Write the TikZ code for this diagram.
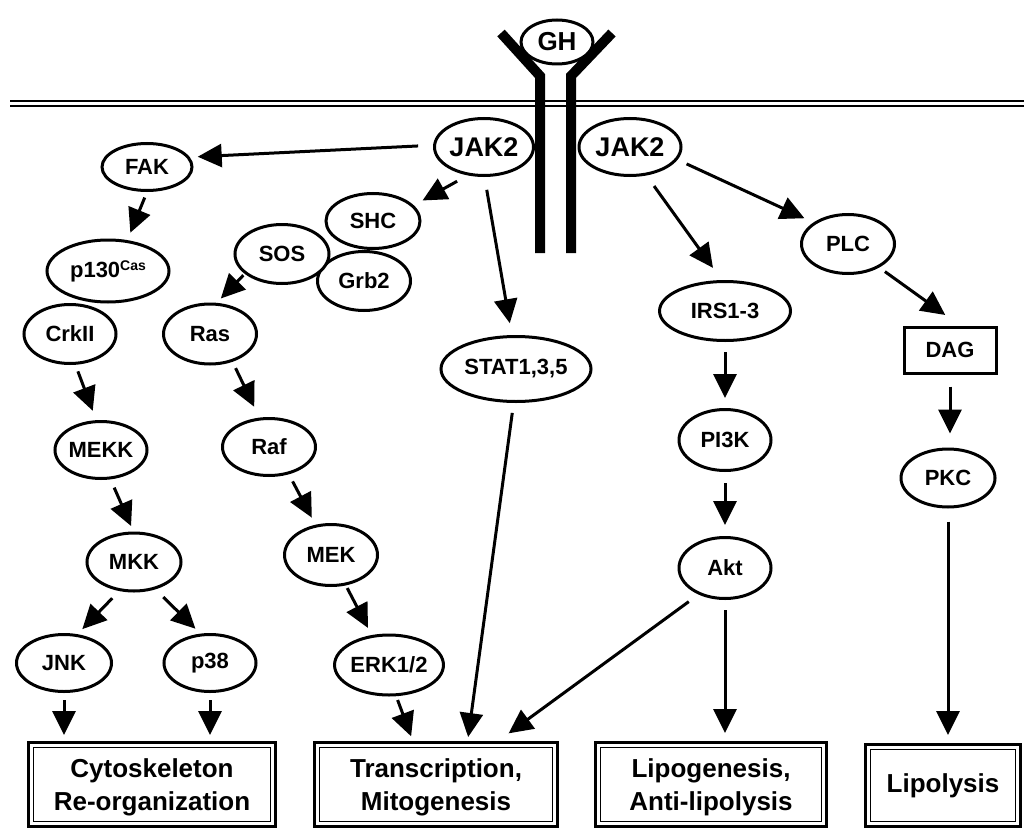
\documentclass[tikz,border=0pt]{standalone}
\usepackage{fontspec}
\setmainfont{Liberation Sans}
\usetikzlibrary{arrows.meta,shapes.geometric}
\begin{document}
\begin{tikzpicture}[x=1pt,y=-1pt,
  ell/.style={ellipse,draw,fill=white,line width=3pt,inner sep=0pt,font=\bfseries\fontsize{22}{26}\selectfont},
  bigell/.style={ell,font=\bfseries\fontsize{27}{30}\selectfont},
  arr/.style={line width=3pt,-{Triangle[length=24pt,width=23pt]}},
  outbox/.style={draw,line width=3pt,inner sep=0pt,align=center,font=\bfseries\fontsize{26}{33}\selectfont},
  innerline/.style={line width=1.5pt},
  membrane/.style={line width=2pt},
  receptor/.style={line width=10pt,line join=miter}
]
\useasboundingbox (0,0) rectangle (1024,829);

% membrane
\draw[membrane] (10,101) -- (1024,101);
\draw[membrane] (10,106.5) -- (1024,106.5);

% receptor
\draw[receptor] (501,33) -- (540,76) -- (540,253);
\draw[receptor] (612,33) -- (571,76) -- (571,253);
\node[ell,minimum width=72,minimum height=44,font=\bfseries\fontsize{26}{30}\selectfont] (gh) at (557,42) {GH};

% nodes
\node[bigell,minimum width=99,minimum height=57] (jak2l) at (484,147) {JAK2};
\node[bigell,minimum width=102,minimum height=57] (jak2r) at (630,147) {JAK2};
\node[ell,minimum width=90,minimum height=47] (fak) at (147,167) {FAK};
\node[ell,minimum width=94,minimum height=55] (shc) at (373,221) {SHC};
\node[ell,minimum width=93,minimum height=59] (grb2) at (364,281) {Grb2};
\node[ell,minimum width=94,minimum height=59] (sos) at (282,254) {SOS};
\node[ell,minimum width=122,minimum height=62] (p130) at (108,271) {p130\raisebox{7pt}{\fontsize{14}{14}\selectfont Cas}};
\node[ell,minimum width=92,minimum height=59] (crk) at (70,334) {CrkII};
\node[ell,minimum width=93,minimum height=60] (ras) at (210,334) {Ras};
\node[ell,minimum width=150,minimum height=65] (stat) at (516,369) {STAT1,3,5};
\node[ell,minimum width=131,minimum height=59] (irs) at (725,311) {IRS1-3};
\node[ell,minimum width=93,minimum height=59] (plc) at (848,244) {PLC};
\node[draw,line width=3pt,inner sep=0pt,minimum width=92,minimum height=46,font=\bfseries\fontsize{22}{26}\selectfont] (dag) at (950,350) {DAG};
\node[ell,minimum width=92,minimum height=61] (pi3k) at (725,440) {PI3K};
\node[ell,minimum width=94,minimum height=58] (pkc) at (948,478) {PKC};
\node[ell,minimum width=92,minimum height=61] (akt) at (725,568) {Akt};
\node[ell,minimum width=92,minimum height=57] (mekk) at (101,450) {MEKK};
\node[ell,minimum width=93,minimum height=57] (raf) at (269,447) {Raf};
\node[ell,minimum width=94,minimum height=58] (mkk) at (134,562) {MKK};
\node[ell,minimum width=93,minimum height=61] (mek) at (331,555) {MEK};
\node[ell,minimum width=95,minimum height=57] (jnk) at (64,663) {JNK};
\node[ell,minimum width=92,minimum height=57] (p38) at (210,663) {p38};
\node[ell,minimum width=105,minimum height=60] (erk) at (389,665) {ERK1/2};

% output boxes
\node[outbox,text depth=0pt,minimum width=247,minimum height=84] (b1) at (152,784.5) {Cytoskeleton\\Re-organization};
\node[outbox,text depth=0pt,minimum width=243,minimum height=84] (b2) at (436,784.5) {Transcription,\\Mitogenesis};
\node[outbox,text depth=0pt,minimum width=231,minimum height=84] (b3) at (711,784.5) {Lipogenesis,\\Anti-lipolysis};
\node[outbox,minimum width=155,minimum height=82] (b4) at (943,785.5) {Lipolysis};
\foreach \b in {b1,b2,b3,b4}{
  \draw[innerline] ([xshift=6.5pt,yshift=-6.5pt]\b.north west) rectangle ([xshift=-6.5pt,yshift=6.5pt]\b.south east);
}

% connectors
\draw[arr,shorten <=15pt,shorten >=8pt] (jak2l.178) -- (fak.13);
\draw[arr,shorten <=12pt,shorten >=10pt] (jak2l.240) -- (shc.21);
\draw[arr,shorten <=13pt,shorten >=12pt] (jak2l.271) -- (stat.97);
\draw[arr,shorten <=13pt,shorten >=15pt] (jak2r.300) -- (irs.96);
\draw[arr,shorten <=10pt,shorten >=10pt] (jak2r.-15) -- (plc.148);
\draw[arr,shorten <=6pt,shorten >=8pt] (fak.270) -- (p130.58);
\draw[arr,shorten <=2pt,shorten >=6pt] (sos.208) -- (ras.78);
\draw[arr,shorten <=7pt,shorten >=10pt] (crk.-80) -- (mekk.99);
\draw[arr,shorten <=7pt,shorten >=12pt] (ras.-51) -- (raf.108);
\draw[arr,shorten <=9pt,shorten >=6pt] (mekk.-72) -- (mkk.91);
\draw[arr,shorten <=8pt,shorten >=8pt] (raf.-54) -- (mek.117);
\draw[arr,shorten <=10pt,shorten >=7pt] (mkk.243) -- (jnk.65);
\draw[arr,shorten <=11pt,shorten >=7pt] (mkk.-52) -- (p38.108);
\draw[arr,shorten <=3pt,shorten >=8pt] (mek.-64) -- (erk.120);
\draw[arr,shorten <=7pt,shorten >=6pt] (jnk.south) -- (jnk.south |- b1.north);
\draw[arr,shorten <=7pt,shorten >=6pt] (p38.south) -- (p38.south |- b1.north);
\draw[arr,shorten <=4pt,shorten >=5pt] (erk.-77) -- (b2.118);
\draw[arr,shorten <=10pt,shorten >=4pt] (stat.266) -- (b2.54);
\draw[arr,shorten <=12pt,shorten >=13pt] (akt.225) -- (b2.35);
\draw[arr,shorten <=10pt,shorten >=8pt] (akt.south) -- (akt.south |- b3.north);
\draw[arr,shorten <=7pt,shorten >=18pt] (plc.-37) -- (dag.68);
\draw[arr,shorten <=12pt,shorten >=14pt] (dag.south) -- (dag.south |- pkc.north);
\draw[arr,shorten <=10pt,shorten >=10pt] (irs) -- (pi3k);
\draw[arr,shorten <=11pt,shorten >=11pt] (pi3k) -- (akt);
\draw[arr,shorten <=13pt,shorten >=8pt] (pkc) -- (pkc.south |- b4.north);
\end{tikzpicture}
\end{document}
